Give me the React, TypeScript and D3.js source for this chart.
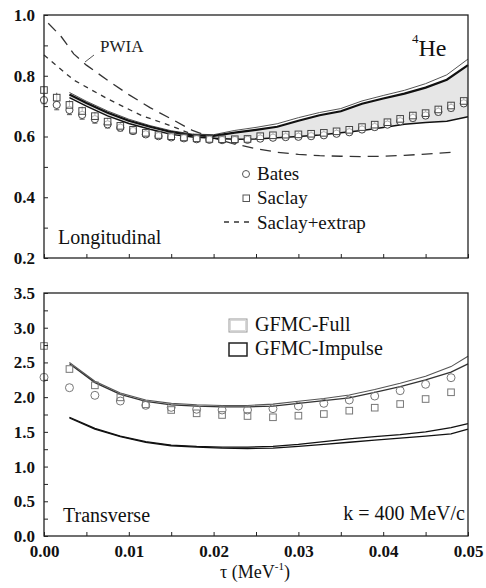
import React, { useEffect, useRef } from 'react';
import * as d3 from 'd3';

// ---- longitudinal panel data ----
const tauL = [0, 0.0015, 0.003, 0.0045, 0.006, 0.0075, 0.009, 0.0105, 0.012, 0.0135, 0.015, 0.0165,
  0.018, 0.0195, 0.021, 0.0225, 0.024, 0.0255, 0.027, 0.0285, 0.03, 0.0315, 0.033, 0.0345, 0.036,
  0.0375, 0.039, 0.0405, 0.042, 0.0435, 0.045, 0.0465, 0.048, 0.0495];
const saclayL = [0.753, 0.728, 0.704, 0.684, 0.667, 0.649, 0.635, 0.622, 0.612, 0.605, 0.601, 0.597,
  0.594, 0.592, 0.591, 0.591, 0.592, 0.601, 0.604, 0.606, 0.607, 0.609, 0.612, 0.617, 0.622, 0.631,
  0.639, 0.647, 0.658, 0.669, 0.677, 0.689, 0.702, 0.717];
const batesL = [0.720, 0.704, 0.687, 0.671, 0.657, 0.640, 0.629, 0.618, 0.607, 0.601, 0.597, 0.594,
  0.591, 0.589, 0.588, 0.588, 0.589, 0.593, 0.596, 0.598, 0.599, 0.601, 0.604, 0.609, 0.614, 0.623,
  0.631, 0.639, 0.650, 0.661, 0.669, 0.681, 0.694, 0.709];
const errL = [0.012, 0.016, 0.015, 0.014, 0.013, 0.012, 0.011, 0.01, 0.009, 0.008, 0.008, 0.008,
  0.008, 0.008, 0.008, 0.008, 0.008, 0.008, 0.008, 0.008, 0.008, 0.008, 0.008, 0.008, 0.008, 0.008,
  0.009, 0.009, 0.009, 0.01, 0.01, 0.01, 0.01, 0.01];

const tauCurveL = [0.003, 0.005, 0.0075, 0.01, 0.0125, 0.015, 0.0175, 0.02, 0.0225, 0.025, 0.0275,
  0.03, 0.0325, 0.035, 0.0375, 0.04, 0.0425, 0.045, 0.0475, 0.05];
const fullHiL = [0.745, 0.716, 0.684, 0.657, 0.636, 0.619, 0.608, 0.606, 0.620, 0.630, 0.642, 0.662,
  0.679, 0.692, 0.717, 0.735, 0.752, 0.774, 0.803, 0.855];
const impulseL = [0.738, 0.710, 0.678, 0.652, 0.632, 0.615, 0.604, 0.602, 0.613, 0.622, 0.632, 0.652,
  0.670, 0.683, 0.708, 0.725, 0.741, 0.761, 0.787, 0.835];
const fullLoL = [0.728, 0.700, 0.668, 0.643, 0.624, 0.607, 0.598, 0.594, 0.591, 0.592, 0.596, 0.600,
  0.605, 0.612, 0.620, 0.630, 0.640, 0.646, 0.650, 0.665];

const tauPwia = [0.0005, 0.002, 0.0035, 0.005, 0.0075, 0.01, 0.0125, 0.015, 0.0175, 0.02, 0.0225,
  0.025, 0.0275, 0.03, 0.0325, 0.035, 0.0375, 0.04, 0.0425, 0.045, 0.048];
const pwia = [0.973, 0.930, 0.872, 0.835, 0.785, 0.738, 0.695, 0.658, 0.620, 0.595, 0.575, 0.560,
  0.548, 0.541, 0.537, 0.535, 0.534, 0.535, 0.538, 0.542, 0.548];
const tauExtrap = [0, 0.0035, 0.0075, 0.0115, 0.015, 0.0175, 0.0195];
const extrap = [0.868, 0.786, 0.724, 0.669, 0.635, 0.607, 0.600];

// ---- transverse panel data ----
const tauT = [0, 0.003, 0.006, 0.009, 0.012, 0.015, 0.018, 0.021, 0.024, 0.027, 0.03, 0.033, 0.036,
  0.039, 0.042, 0.045, 0.048];
const batesT = [2.286, 2.136, 2.026, 1.944, 1.882, 1.853, 1.825, 1.815, 1.815, 1.834, 1.872, 1.911,
  1.959, 2.016, 2.093, 2.185, 2.28];
const saclayT = [2.737, 2.405, 2.170, 1.997, 1.897, 1.815, 1.767, 1.743, 1.728, 1.71, 1.733, 1.757,
  1.805, 1.848, 1.901, 1.973, 2.07];

const tauCurveT = [0.003, 0.006, 0.009, 0.012, 0.015, 0.018, 0.021, 0.024, 0.027, 0.03, 0.033, 0.036,
  0.039, 0.042, 0.045, 0.048, 0.05];
const fullHiT = [2.50, 2.23, 2.06, 1.96, 1.91, 1.89, 1.88, 1.88, 1.90, 1.94, 1.98, 2.03, 2.11, 2.20,
  2.30, 2.44, 2.59];
const fullLoT = [2.48, 2.21, 2.04, 1.94, 1.89, 1.87, 1.86, 1.86, 1.87, 1.91, 1.95, 1.99, 2.07, 2.15,
  2.25, 2.36, 2.48];
const impHiT = [1.71, 1.55, 1.44, 1.36, 1.31, 1.29, 1.28, 1.28, 1.29, 1.32, 1.36, 1.40, 1.43, 1.46,
  1.50, 1.56, 1.62];
const impLoT = [1.70, 1.54, 1.43, 1.35, 1.30, 1.28, 1.265, 1.26, 1.265, 1.29, 1.32, 1.35, 1.38, 1.41,
  1.44, 1.47, 1.54];

const xTicks = [0, 0.01, 0.02, 0.03, 0.04, 0.05];
const yTicksL = [0.2, 0.4, 0.6, 0.8, 1.0];
const yTicksT = [0.0, 0.5, 1.0, 1.5, 2.0, 2.5, 3.0, 3.5];

const SERIF = "'Liberation Serif', 'Times New Roman', serif";

function drawChart(svgEl: SVGSVGElement) {
  const svg = d3.select(svgEl);
  svg.selectAll('*').remove();

  const x = d3.scaleLinear().domain([0, 0.05]).range([44, 468]);
  const yL = d3.scaleLinear().domain([0.2, 1.0]).range([258, 15]);
  const yT = d3.scaleLinear().domain([0, 3.5]).range([536, 293]);

  const pts = (ts: number[], vs: number[]) => ts.map((t, i) => [t, vs[i]] as [number, number]);

  const axes = (g: any, y: any, yMajor: number[], yMinorStep: number, showX: boolean, fmtY: string) => {
    const [y0, y1] = y.domain();
    const bottom = y.range()[0];
    // minor x ticks
    g.append('g').attr('transform', `translate(0,${bottom})`)
      .call(d3.axisBottom(x).tickValues(d3.range(0, 0.0501, 0.005)).tickSize(-4).tickFormat(() => ''))
      .call((a: any) => a.select('.domain').remove())
      .call((a: any) => a.selectAll('line').attr('stroke', '#222'));
    if (showX) {
      g.append('g').attr('transform', `translate(0,${bottom})`)
        .call(d3.axisBottom(x).tickValues(xTicks).tickSize(0).tickPadding(9).tickFormat(d3.format('.2f')))
        .call((a: any) => a.select('.domain').remove())
        .call((a: any) => a.selectAll('text').attr('font-family', SERIF).attr('font-weight', 'bold')
          .attr('font-size', 17).attr('fill', '#111'));
    }
    g.append('g').attr('transform', 'translate(44,0)')
      .call(d3.axisLeft(y).tickValues(d3.range(y0, y1 + 1e-6, yMinorStep)).tickSize(-4).tickFormat(() => ''))
      .call((a: any) => a.select('.domain').remove())
      .call((a: any) => a.selectAll('line').attr('stroke', '#222'));
    g.append('g').attr('transform', 'translate(44,0)')
      .call(d3.axisLeft(y).tickValues(yMajor).tickSize(0).tickPadding(9).tickFormat(d3.format(fmtY)))
      .call((a: any) => a.select('.domain').remove())
      .call((a: any) => a.selectAll('text').attr('font-family', SERIF).attr('font-weight', 'bold')
        .attr('font-size', 17).attr('fill', '#111'));
    const top = y.range()[1];
    g.append('rect').attr('x', 44).attr('y', top).attr('width', 424).attr('height', bottom - top)
      .attr('fill', 'none').attr('stroke', '#222').attr('stroke-width', 1.3);
  };

  // ===== Longitudinal panel =====
  const gL = svg.append('g');
  const lineL = d3.line<[number, number]>().x(d => x(d[0])).y(d => yL(d[1]));

  const band = d3.area<number>()
    .x((_, i) => x(tauCurveL[i]))
    .y0((_, i) => yL(fullLoL[i]))
    .y1((_, i) => yL(impulseL[i]));
  gL.append('path').attr('d', band(tauCurveL)).attr('fill', '#e6e6e6');

  gL.append('path').attr('d', lineL(pts(tauPwia, pwia))).attr('fill', 'none')
    .attr('stroke', '#333').attr('stroke-width', 1.3).attr('stroke-dasharray', '11,7');
  gL.append('path').attr('d', lineL(pts(tauExtrap, extrap))).attr('fill', 'none')
    .attr('stroke', '#333').attr('stroke-width', 1.3).attr('stroke-dasharray', '5,5');

  gL.append('path').attr('d', lineL(pts(tauCurveL, fullHiL))).attr('fill', 'none')
    .attr('stroke', '#555').attr('stroke-width', 1);
  gL.append('path').attr('d', lineL(pts(tauCurveL, impulseL))).attr('fill', 'none')
    .attr('stroke', '#111').attr('stroke-width', 2.2);
  gL.append('path').attr('d', lineL(pts(tauCurveL, fullLoL))).attr('fill', 'none')
    .attr('stroke', '#111').attr('stroke-width', 1.5);

  // error bars
  gL.selectAll('.err').data(tauL).join('g').attr('class', 'err').each(function (t, i) {
    const g = d3.select(this);
    const hi = Math.max(saclayL[i], batesL[i]) + errL[i];
    const lo = Math.min(saclayL[i], batesL[i]) - errL[i];
    g.append('line').attr('x1', x(t)).attr('x2', x(t)).attr('y1', yL(hi)).attr('y2', yL(lo))
      .attr('stroke', '#555').attr('stroke-width', 1);
    g.append('line').attr('x1', x(t) - 2.5).attr('x2', x(t) + 2.5).attr('y1', yL(lo)).attr('y2', yL(lo))
      .attr('stroke', '#555').attr('stroke-width', 1);
  });
  gL.selectAll('.bates').data(tauL).join('circle').attr('class', 'bates')
    .attr('cx', d => x(d)).attr('cy', (_, i) => yL(batesL[i])).attr('r', 3.6)
    .attr('fill', 'white').attr('stroke', '#444').attr('stroke-width', 1);
  gL.selectAll('.saclay').data(tauL).join('rect').attr('class', 'saclay')
    .attr('x', d => x(d) - 3.3).attr('y', (_, i) => yL(saclayL[i]) - 3.3).attr('width', 6.6).attr('height', 6.6)
    .attr('fill', 'white').attr('fill-opacity', 0.6).attr('stroke', '#444').attr('stroke-width', 1);

  axes(gL, yL, yTicksL, 0.1, false, '.1f');

  // labels
  gL.append('text').attr('x', 100).attr('y', 52).attr('font-family', SERIF).attr('font-size', 17)
    .attr('fill', '#222').text('PWIA');
  gL.append('line').attr('x1', 85).attr('y1', 62).attr('x2', 94).attr('y2', 55)
    .attr('stroke', '#555').attr('stroke-width', 1);
  const he = gL.append('text').attr('x', 412).attr('y', 56).attr('font-family', SERIF).attr('fill', '#111');
  he.append('tspan').attr('font-size', 13).attr('dy', -13).text('4');
  he.append('tspan').attr('font-size', 24).attr('dy', 13).text('He');
  gL.append('text').attr('x', 58).attr('y', 244).attr('font-family', SERIF).attr('font-size', 20)
    .attr('fill', '#111').text('Longitudinal');

  // legend
  gL.append('circle').attr('cx', 246).attr('cy', 174).attr('r', 3.5)
    .attr('fill', 'white').attr('stroke', '#555');
  gL.append('rect').attr('x', 243).attr('y', 195).attr('width', 6.5).attr('height', 6.5)
    .attr('fill', 'white').attr('stroke', '#555');
  gL.append('line').attr('x1', 224).attr('x2', 250).attr('y1', 222).attr('y2', 222)
    .attr('stroke', '#333').attr('stroke-width', 1.3).attr('stroke-dasharray', '5,5');
  const legL = [['Bates', 180], ['Saclay', 204], ['Saclay+extrap', 229]] as [string, number][];
  legL.forEach(([s, yy]) => {
    gL.append('text').attr('x', 257).attr('y', yy).attr('font-family', SERIF).attr('font-size', 19)
      .attr('fill', '#111').text(s);
  });

  // ===== Transverse panel =====
  const gT = svg.append('g');
  const lineT = d3.line<[number, number]>().x(d => x(d[0])).y(d => yT(d[1]));
  [[fullHiT, '#555', 1.1], [fullLoT, '#333', 1.3], [impHiT, '#111', 1.3], [impLoT, '#111', 1.3]]
    .forEach(([vs, c, w]) => {
      gT.append('path').attr('d', lineT(pts(tauCurveT, vs as number[]))).attr('fill', 'none')
        .attr('stroke', c as string).attr('stroke-width', w as number);
    });

  gT.selectAll('.bates').data(tauT).join('circle').attr('class', 'bates')
    .attr('cx', d => x(d)).attr('cy', (_, i) => yT(batesT[i])).attr('r', 4)
    .attr('fill', 'none').attr('stroke', '#777').attr('stroke-width', 1);
  gT.selectAll('.saclay').data(tauT).join('rect').attr('class', 'saclay')
    .attr('x', d => x(d) - 3.3).attr('y', (_, i) => yT(saclayT[i]) - 3.3).attr('width', 6.6).attr('height', 6.6)
    .attr('fill', 'none').attr('stroke', '#777').attr('stroke-width', 1);

  axes(gT, yT, yTicksT, 0.25, true, '.1f');

  // legend boxes
  gT.append('rect').attr('x', 229).attr('y', 319).attr('width', 18).attr('height', 13)
    .attr('fill', 'white').attr('stroke', '#999').attr('stroke-width', 1);
  gT.append('rect').attr('x', 230.5).attr('y', 320.5).attr('width', 15).attr('height', 10)
    .attr('fill', 'none').attr('stroke', '#d0d0d0').attr('stroke-width', 0.8);
  gT.append('rect').attr('x', 229).attr('y', 343).attr('width', 18).attr('height', 13)
    .attr('fill', 'white').attr('stroke', '#222').attr('stroke-width', 1.5);
  gT.append('text').attr('x', 255).attr('y', 331).attr('font-family', SERIF).attr('font-size', 20)
    .attr('fill', '#111').text('GFMC-Full');
  gT.append('text').attr('x', 255).attr('y', 355).attr('font-family', SERIF).attr('font-size', 20)
    .attr('fill', '#111').text('GFMC-Impulse');

  gT.append('text').attr('x', 63).attr('y', 522).attr('font-family', SERIF).attr('font-size', 20)
    .attr('fill', '#111').text('Transverse');
  gT.append('text').attr('x', 465).attr('y', 520).attr('text-anchor', 'end').attr('font-family', SERIF)
    .attr('font-size', 20).attr('fill', '#111').text('k = 400 MeV/c');

  const xt = gT.append('text').attr('x', 220).attr('y', 578).attr('font-family', SERIF)
    .attr('font-size', 18).attr('fill', '#111');
  xt.append('tspan').text('τ (MeV');
  xt.append('tspan').attr('font-size', 11).attr('dy', -8).text('-1');
  xt.append('tspan').attr('dy', 8).text(')');
}

export default function App() {
  const ref = useRef<SVGSVGElement>(null);
  useEffect(() => {
    if (ref.current) drawChart(ref.current);
  }, []);
  return (
    <svg ref={ref} width={486} height={588}
      style={{ position: 'absolute', left: 0, top: 0, background: '#fff' }} />
  );
}
